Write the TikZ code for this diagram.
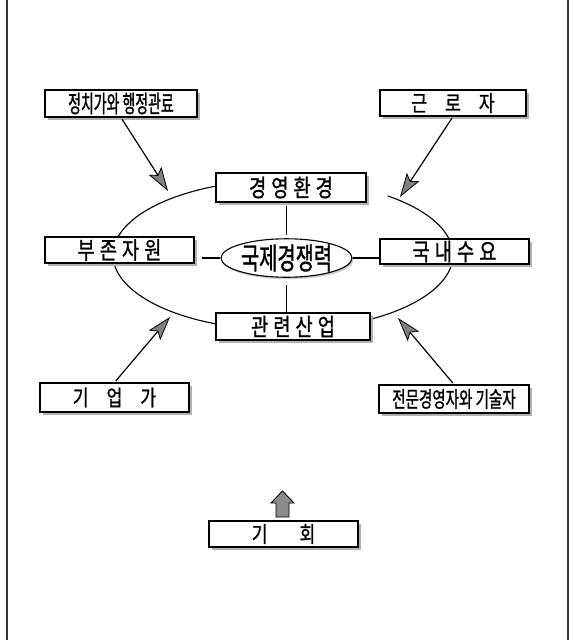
\documentclass[tikz,border=0pt]{standalone}
\usepackage{fontspec}
\usetikzlibrary{arrows.meta,shadows,shapes.geometric}
\newfontfamily\krA[FakeStretch=0.78,FakeBold=1]{Noto Sans CJK KR}
\newfontfamily\krB[FakeStretch=0.58,FakeBold=1]{Noto Sans CJK KR}
\newfontfamily\krC[FakeStretch=0.66,FakeBold=1]{Noto Sans CJK KR}
\begin{document}
\begin{tikzpicture}[x=1pt,y=-1pt,
  box/.style={draw=black, line width=1.1pt, fill=white, inner sep=0pt,
    drop shadow={shadow xshift=2.5pt, shadow yshift=-2.5pt, fill=black!30, opacity=1}},
  wide/.style={font=\krA\fontsize{24}{24}\selectfont},
  narrow/.style={font=\krB\fontsize{24}{24}\selectfont},
  conn/.style={line width=1.1pt},
  arr/.style={line width=1.2pt, -{Stealth[length=24pt,width=15pt,inset=5pt,fill=black!50,line width=0.8pt]}},
]
\useasboundingbox (0,0) rectangle (574,640);
\fill[white] (0,0) rectangle (574,640);
\draw[line width=1.4pt, black!80] (7,0) -- (7,640);
\draw[line width=1.4pt, black!80] (568,0) -- (568,640);

% big ellipse
\draw[conn] plot[domain=61:412, samples=160, smooth] ({283+170*cos(\x)},{255-75*sin(\x)});

% boxes
\node[box, narrow, minimum width=152pt, minimum height=27pt] (gov) at (121,103.5) {정치가와 행정관료};
\node[box, wide, font=\krA\fontsize{22}{22}\selectfont, minimum width=146pt, minimum height=26pt] (lab) at (453,103) {근\hspace{18pt}로\hspace{18pt}자};
\node[box, wide, minimum width=150pt, minimum height=29pt] (env) at (291,187.5) {경\hspace{5pt}영\hspace{5pt}환\hspace{5pt}경};
\node[box, wide, minimum width=149pt, minimum height=26pt] (res) at (119.5,250) {부\hspace{5pt}존\hspace{5pt}자\hspace{5pt}원};
\node[box, wide, minimum width=149pt, minimum height=25pt] (dem) at (454.5,251.5) {국\hspace{5pt}내\hspace{5pt}수\hspace{5pt}요};
\node[box, wide, minimum width=154pt, minimum height=27pt] (ind) at (293,326.5) {관\hspace{5pt}련\hspace{5pt}산\hspace{5pt}업};
\node[box, wide, font=\krA\fontsize{22}{22}\selectfont, minimum width=149pt, minimum height=29pt] (ent) at (114.5,397.5) {기\hspace{18pt}업\hspace{18pt}가};
\node[box, font=\krC\fontsize{22}{22}\selectfont, minimum width=150pt, minimum height=28pt] (mgr) at (454,399) {전문경영자와 기술자};
\node[box, wide, font=\krA\fontsize{22}{22}\selectfont, minimum width=149pt, minimum height=26pt] (opp) at (283.5,534) {기\hspace{32pt}회};

% central ellipse
\node[ellipse, draw=black, line width=1.1pt, fill=white, inner sep=0pt,
  minimum width=131pt, minimum height=38pt,
  drop shadow={shadow xshift=1.5pt, shadow yshift=-2pt, fill=black!20, opacity=1},
  font=\krC\fontsize{30}{30}\selectfont] (comp) at (286.5,258) {국제경쟁력};

% connectors
\draw[conn, shorten <=3pt, shorten >=3pt] (env.south -| comp.north) -- (comp.north);
\draw[conn, shorten <=7pt] (comp.south) -- (ind.north -| comp.south);
\draw[conn] (comp.west) -- ++(-18,0);
\draw[conn] (comp.east) -- (dem.west |- comp.east);

% arrows
\coordinate (t1) at (168,191);
\coordinate (t2) at (400,197);
\coordinate (t3) at (170,317);
\coordinate (t4) at (398,318);
\draw[arr, shorten <=2pt] (gov.south) -- (t1);
\draw[arr, shorten <=2pt] (lab.south) -- (t2);
\draw[arr, shorten <=2pt] (ent.north) -- (t3);
\draw[arr, shorten <=2pt] (mgr.north) -- (t4);

% block arrow above opp
\draw[fill=black!45, line width=0.9pt] (276,517) -- (276,503) -- (271,503) -- (282.5,491) -- (294,503) -- (289,503) -- (289,517) -- cycle;
\end{tikzpicture}
\end{document}
